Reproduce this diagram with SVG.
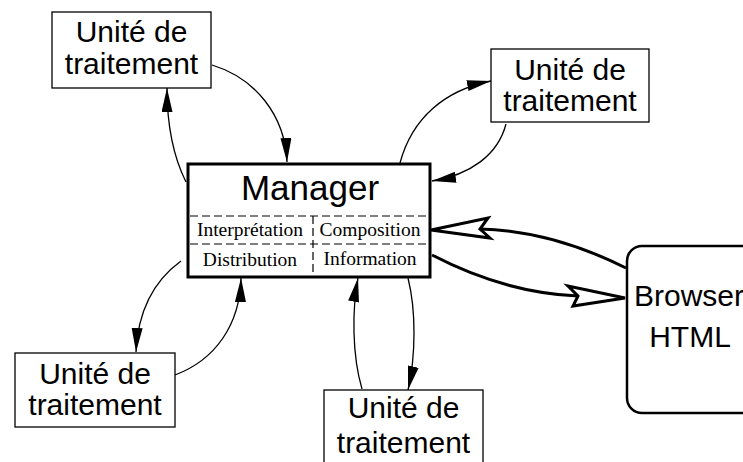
<svg xmlns="http://www.w3.org/2000/svg" width="743" height="462" viewBox="0 0 743 462">
  <defs>
    <style>
      .unit { fill: #fff; stroke: #000; stroke-width: 1.3; }
      .label { font-family: "Liberation Sans", Arial, sans-serif; font-size: 30px; fill: #000; text-anchor: middle; }
      .part { font-family: "Liberation Serif", "Times New Roman", serif; font-size: 19.5px; fill: #000; text-anchor: middle; }
      .dash { stroke: #000; stroke-width: 1.2; stroke-dasharray: 8 4; fill: none; }
      .thin { fill: none; stroke: #000; stroke-width: 1.3; marker-end: url(#head); }
      .thick { fill: none; stroke: #000; stroke-width: 3; }
      .open { fill: #fff; stroke: #000; stroke-width: 3; stroke-linejoin: miter; }
    </style>
    <marker id="head" markerUnits="userSpaceOnUse" markerWidth="26" markerHeight="12" refX="24" refY="5.5" orient="auto">
      <path d="M0,0 L24,5.5 L0,11 z" fill="#000"/>
    </marker>
  </defs>
  <rect width="743" height="462" fill="#fff"/>

  <!-- connectors -->
  <g id="connectors">
    <path class="thin" d="M212,65 C255,78 285,115 287,162"/>
    <path class="thin" d="M186,182 C174,158 167,130 167,88"/>
    <path class="thin" d="M400,163 C412,118 445,90 491,81"/>
    <path class="thin" d="M506,124 C498,155 470,175 432,181"/>
    <path class="thin" d="M181,261 C155,280 138,310 136,352"/>
    <path class="thin" d="M175,375 C215,360 240,325 241,278"/>
    <path class="thin" d="M362,389 C352,355 352,310 358,278"/>
    <path class="thin" d="M408,278 C416,310 416,355 408,390"/>
    <!-- browser links -->
    <path class="thick" d="M626,268 C580,245 530,230 480,229"/>
    <polygon class="open" points="431,230 488,218 480,229 490,238"/>
    <path class="thick" d="M432,255 C480,280 530,294 578,296"/>
    <polygon class="open" points="625,298 568,286 578,296 573,306"/>
  </g>

  <g id="unit-top-left">
    <rect class="unit" x="52" y="12" width="159" height="76"/>
    <text class="label" x="131.5" y="42">Unité de</text>
    <text class="label" x="131.5" y="74">traitement</text>
  </g>

  <g id="unit-top-right">
    <rect class="unit" x="491" y="49" width="158" height="73"/>
    <text class="label" x="570" y="80">Unité de</text>
    <text class="label" x="570" y="111">traitement</text>
  </g>

  <g id="unit-bottom-left">
    <rect class="unit" x="15" y="353" width="160" height="74"/>
    <text class="label" x="95" y="384">Unité de</text>
    <text class="label" x="95" y="415">traitement</text>
  </g>

  <g id="unit-bottom-center">
    <rect class="unit" x="324" y="390" width="159" height="80"/>
    <text class="label" x="403.5" y="418">Unité de</text>
    <text class="label" x="403.5" y="453">traitement</text>
  </g>

  <g id="manager">
    <rect x="188" y="164" width="242" height="113" fill="#fff" stroke="#000" stroke-width="3"/>
    <text x="310" y="200" font-family="Liberation Sans, Arial, sans-serif" font-size="35" text-anchor="middle">Manager</text>
    <line class="dash" x1="190" y1="216" x2="428" y2="216"/>
    <line class="dash" x1="190" y1="244" x2="428" y2="244"/>
    <line class="dash" x1="313" y1="216" x2="313" y2="276"/>
    <text class="part" x="250" y="236">Interprétation</text>
    <text class="part" x="370" y="236">Composition</text>
    <text class="part" x="250" y="266">Distribution</text>
    <text class="part" x="370" y="265">Information</text>
  </g>

  <g id="browser">
    <rect x="627" y="246" width="140" height="167" rx="15" ry="15" fill="#fff" stroke="#000" stroke-width="2.5"/>
    <text class="label" x="689" y="306">Browser</text>
    <text class="label" x="690" y="347">HTML</text>
  </g>
</svg>
